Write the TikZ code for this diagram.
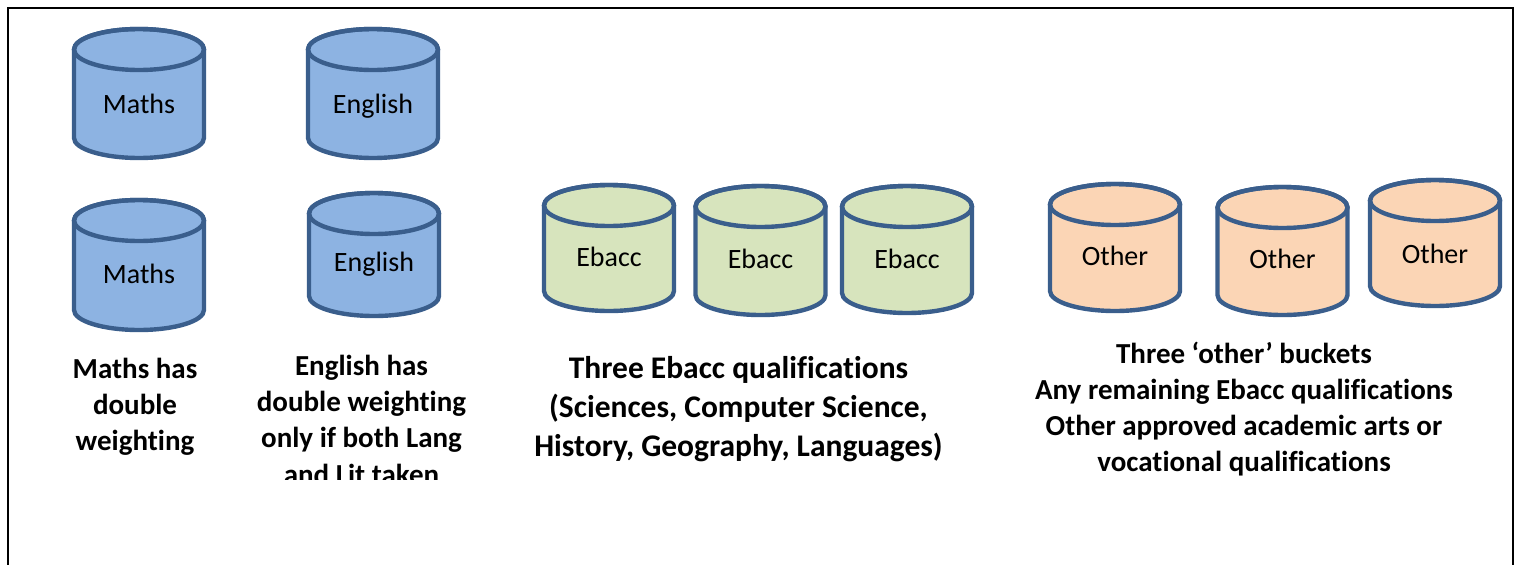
\documentclass[tikz,border=0pt]{standalone}
\usepackage{fontspec}
\setmainfont[Ligatures=NoCommon]{Carlito}
\definecolor{edgeblue}{HTML}{3A5E8C}
\definecolor{fillblue}{HTML}{8DB3E2}
\definecolor{fillgreen}{HTML}{D7E4BD}
\definecolor{fillorange}{HTML}{FBD5B5}
\tikzset{
  bucketline/.style={draw=edgeblue, line width=4.4pt},
  buckettext/.style={anchor=base, inner sep=0pt, font=\fontsize{28}{34}\selectfont},
  caption/.style={anchor=base, inner sep=0pt, font=\bfseries\fontsize{29}{36.2}\selectfont},
  bigcaption/.style={anchor=base, inner sep=0pt, font=\bfseries\fontsize{31.5}{39}\selectfont},
  frameline/.style={draw=black, line width=2.2pt}
}
\newcommand\bucket[7]{%
  \pgfmathsetmacro\yt{-(#3+22.5)}%
  \pgfmathsetmacro\yb{-(#4-22)}%
  \filldraw[bucketline, fill=#5] (#2-65,\yt) -- (#2-65,\yb)
     arc[start angle=180, end angle=360, x radius=65pt, y radius=20pt]
     -- (#2+65,\yt)
     arc[start angle=0, end angle=180, x radius=65pt, y radius=20.5pt] -- cycle;
  \draw[bucketline] (#2,\yt) ellipse[x radius=65pt, y radius=20.5pt];
  \node[buckettext] (#1) at (#2,-#7) {#6};
}
\newcommand\lines[1]{\begin{tabular}[t]{@{}c@{}}#1\end{tabular}}
\begin{document}
\begin{tikzpicture}[x=1pt,y=1pt]
\useasboundingbox (0,0) rectangle (1519,-565);
\clip (0,0) rectangle (1519,-565);
\draw[frameline] (8,-575) -- (8,-8) -- (1513,-8) -- (1513,-575);

\bucket{maths1}{139}{27}{160}{fillblue}{Maths}{113}
\bucket{english1}{373}{27}{160}{fillblue}{English}{113}
\bucket{maths2}{139}{198}{332}{fillblue}{Maths}{283}
\bucket{english2}{374}{191}{318}{fillblue}{English}{271}
\bucket{ebacc1}{609}{183}{313}{fillgreen}{Ebacc}{266}
\bucket{ebacc2}{760.5}{184}{317}{fillgreen}{Ebacc}{268}
\bucket{ebacc3}{907}{184}{315}{fillgreen}{Ebacc}{268}
\bucket{other1}{1115}{182}{313}{fillorange}{Other}{265}
\bucket{other2}{1282.5}{185}{317}{fillorange}{Other}{268}
\bucket{other3}{1435}{178}{308}{fillorange}{Other}{263}

\node[caption] (mathscap) at (135,-378) {\lines{Maths has\\ double\\ weighting}};
\begin{scope}
  \clip (230,-330) rectangle (500,-479);
  \node[caption] (englishcap) at (361.5,-375.5) {\lines{English has\\ double weighting\\ only if both Lang\\ and Lit taken}};
\end{scope}
\node[bigcaption] (ebacccap) at (738.5,-378) {\lines{Three Ebacc qualifications\\ (Sciences, Computer Science,\\ History, Geography, Languages)}};
\node[caption] (othercap) at (1244,-363) {\lines{Three ‘other’ buckets\\ Any remaining Ebacc qualifications\\ Other approved academic arts or\\ vocational qualifications}};
\end{tikzpicture}
\end{document}
